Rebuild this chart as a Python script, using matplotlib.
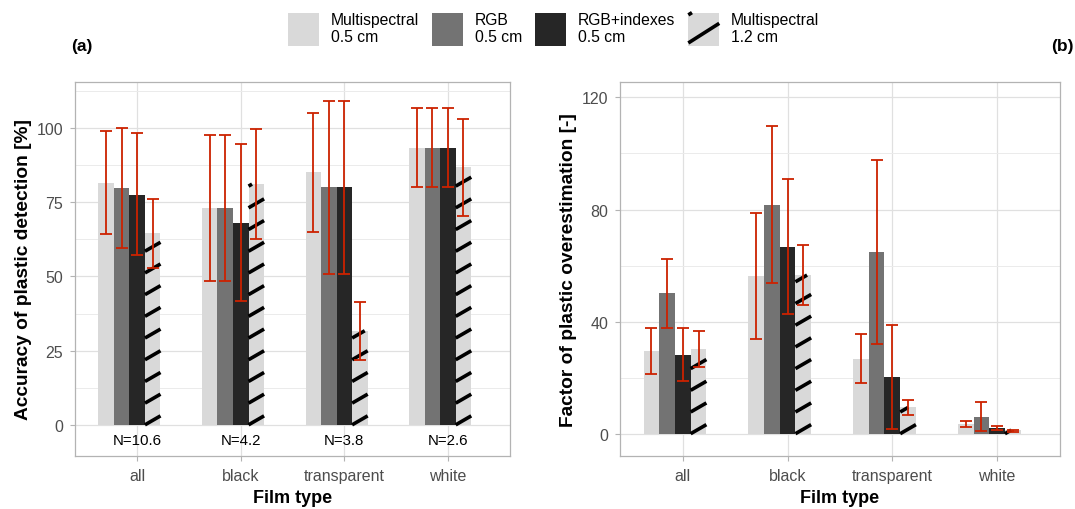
import numpy as np
import matplotlib
matplotlib.use("Agg")
import matplotlib.pyplot as plt
from matplotlib.lines import Line2D
from matplotlib.patches import Patch, Rectangle
from matplotlib.legend_handler import HandlerPatch
from matplotlib.transforms import IdentityTransform

plt.rcParams['font.family'] = ['Liberation Sans', 'DejaVu Sans']

# ---- data ----
categories = ['all', 'black', 'transparent', 'white']
series_labels = ['Multispectral\n0.5 cm', 'RGB\n0.5 cm', 'RGB+indexes\n0.5 cm', 'Multispectral\n1.2 cm']
n_labels = ['N=10.6', 'N=4.2', 'N=3.8', 'N=2.6']

# (a) accuracy of plastic detection [%]
acc_ms05 = [81.5, 73.0, 85.1, 93.3]
acc_ms05_lo = [64.4, 48.3, 65.1, 80.2]
acc_ms05_hi = [99.0, 97.8, 105.2, 106.7]
acc_rgb = [79.7, 73.0, 80.1, 93.3]
acc_rgb_lo = [59.6, 48.3, 50.9, 80.2]
acc_rgb_hi = [99.9, 97.8, 109.2, 106.7]
acc_idx = [77.6, 68.1, 80.1, 93.3]
acc_idx_lo = [57.1, 41.7, 50.9, 80.2]
acc_idx_hi = [98.3, 94.5, 109.2, 106.7]
acc_ms12 = [64.5, 81.1, 31.7, 86.9]
acc_ms12_lo = [52.7, 62.6, 22.0, 70.4]
acc_ms12_hi = [76.2, 99.6, 41.3, 103.0]

# (b) factor of plastic overestimation [-]
over_ms05 = [29.4, 56.1, 26.6, 3.4]
over_ms05_lo = [21.3, 33.8, 18.0, 2.5]
over_ms05_hi = [37.6, 78.7, 35.7, 4.6]
over_rgb = [50.1, 81.6, 64.7, 5.8]
over_rgb_lo = [37.8, 53.6, 32.1, 0.8]
over_rgb_hi = [62.4, 109.7, 97.5, 11.2]
over_idx = [28.2, 66.7, 20.1, 2.0]
over_idx_lo = [18.7, 42.7, 1.8, 1.4]
over_idx_hi = [37.8, 91.0, 38.7, 2.9]
over_ms12 = [30.2, 56.6, 9.4, 1.3]
over_ms12_lo = [23.8, 46.1, 6.7, 0.7]
over_ms12_hi = [36.5, 67.2, 12.1, 1.4]

# ---- style ----
fills = ['#d9d9d9', '#737373', '#262626', '#d9d9d9']
err_col = '#cc2200'
border_col = '#b3b3b3'
text_col = '#4d4d4d'
bar_w = 0.15
STRIPE_SPACING = 21.7  # px
STRIPE_ANGLE = 30


def clip_segment(x0, y0, slope, bx0, by0, bx1, by1):
    """Gerade y = y0 + slope*(x-x0) auf Rechteck beschneiden"""
    xa = x0 + (by0 - y0) / slope
    xb = x0 + (by1 - y0) / slope
    lo = max(bx0, min(xa, xb))
    hi = min(bx1, max(xa, xb))
    if hi <= lo:
        return None
    return [lo, hi], [y0 + slope * (lo - x0), y0 + slope * (hi - x0)]


def add_stripes(ax, bars):
    """Schraffur wie ggpattern: dicke Streifen, auf den Balken beschnitten"""
    slope = np.tan(np.radians(STRIPE_ANGLE))
    for bar in bars:
        bb = bar.get_window_extent()
        x0, y0, x1, y1 = bb.x0, bb.y0, bb.x1, bb.y1
        k = -2
        while y0 + k * STRIPE_SPACING <= y1:
            seg = clip_segment(x0, y0 + k * STRIPE_SPACING, slope, x0, y0, x1, y1)
            if seg is not None:
                ln = Line2D(seg[0], seg[1], transform=IdentityTransform(),
                            color='black', lw=2.6, solid_capstyle='butt', zorder=2.5)
                ax.add_artist(ln)
            k += 1


class StripeHandler(HandlerPatch):
    def create_artists(self, legend, orig_handle, xdescent, ydescent,
                       width, height, fontsize, trans):
        bx0, by0 = -xdescent, -ydescent
        rect = Rectangle((bx0, by0), width, height,
                         facecolor=fills[3], edgecolor='none', transform=trans)
        slope = np.tan(np.radians(STRIPE_ANGLE)) * 1.1
        sp = height * 0.85
        arts = [rect]
        for k in (-1, 0, 1):
            seg = clip_segment(bx0, by0 + 0.08 * height + k * sp, slope,
                               bx0, by0, bx0 + width, by0 + height)
            if seg is None:
                continue
            ln = Line2D(seg[0], seg[1], color='black', lw=2.6,
                        solid_capstyle='butt', transform=trans)
            arts.append(ln)
        return arts


def draw_panel(ax, vals, los, his, ylim, major, minor, ylabel, ntext=None):
    x = np.arange(1, len(categories) + 1)
    ax.set_xlim(0.4, 4.6)
    ax.set_ylim(*ylim)
    ax.set_yticks(major)
    ax.set_yticks(minor, minor=True)
    ax.set_xticks(x)
    ax.set_xticklabels(categories)
    ax.grid(True, which='major', color='#e0e0e0', lw=0.9)
    ax.grid(True, which='minor', axis='y', color='#ebebeb', lw=0.7)
    ax.set_axisbelow(True)

    containers = []
    for i in range(4):
        pos = x + (i - 2) * bar_w
        b = ax.bar(pos, vals[i], width=bar_w, color=fills[i], zorder=2)
        containers.append(b)
        yerr = [np.array(vals[i]) - np.array(los[i]), np.array(his[i]) - np.array(vals[i])]
        ax.errorbar(pos, vals[i], yerr=yerr, fmt='none', ecolor=err_col,
                    elinewidth=1.3, capsize=4.3, capthick=1.3, zorder=3)
    add_stripes(ax, containers[3])

    if ntext is not None:
        for xi, t in zip(x, ntext):
            ax.text(xi, -5, t, ha='center', va='center', fontsize=10.8, color='black')

    for s in ax.spines.values():
        s.set_color(border_col)
        s.set_linewidth(0.9)
    ax.tick_params(which='major', color=border_col, length=3.5, width=0.8,
                   labelcolor=text_col, labelsize=11.5, pad=5)
    ax.tick_params(which='minor', length=0)
    ax.set_xlabel('Film type', fontsize=13, fontweight='bold', labelpad=5)
    ax.set_ylabel(ylabel, fontsize=13.8, fontweight='bold', labelpad=3)


fig = plt.figure(figsize=(10.75, 5.1), dpi=100)
ax1 = fig.add_axes([0.0698, 0.1045, 0.4047, 0.7333])
ax2 = fig.add_axes([0.5767, 0.1045, 0.4093, 0.7333])

draw_panel(ax1,
           [acc_ms05, acc_rgb, acc_idx, acc_ms12],
           [acc_ms05_lo, acc_rgb_lo, acc_idx_lo, acc_ms12_lo],
           [acc_ms05_hi, acc_rgb_hi, acc_idx_hi, acc_ms12_hi],
           (-10.4, 115.6), [0, 25, 50, 75, 100], [12.5, 37.5, 62.5, 87.5, 112.5],
           'Accuracy of plastic detection [%]', ntext=n_labels)
draw_panel(ax2,
           [over_ms05, over_rgb, over_idx, over_ms12],
           [over_ms05_lo, over_rgb_lo, over_idx_lo, over_ms12_lo],
           [over_ms05_hi, over_rgb_hi, over_idx_hi, over_ms12_hi],
           (-7.85, 125.6), [0, 40, 80, 120], [20, 60, 100],
           'Factor of plastic overestimation [-]')

fig.text(82 / 1075, 1 - 47 / 510, '(a)', fontsize=12.5, fontweight='bold', ha='center', va='center')
fig.text(1062 / 1075, 1 - 47 / 510, '(b)', fontsize=12.5, fontweight='bold', ha='center', va='center')

handles = [Patch(facecolor=c, edgecolor='none') for c in fills]
fig.legend(handles, series_labels, loc='upper center', bbox_to_anchor=(0.515, 1.0),
           ncol=4, frameon=False, fontsize=11.3, handlelength=1.97, handleheight=2.86,
           handletextpad=0.76, columnspacing=0.83, borderpad=0.3,
           handler_map={handles[3]: StripeHandler()})

fig.savefig('out.png', dpi=100)
